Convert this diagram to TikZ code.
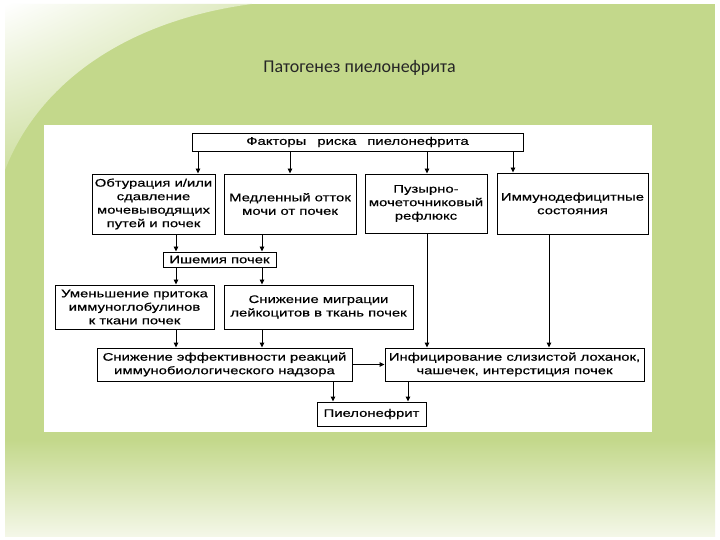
\documentclass[tikz,border=0pt]{standalone}
\usepackage{fontspec}
\setmainfont{Liberation Sans}
\newfontfamily\chartfont[FakeStretch=1.35,FakeBold=0.5]{Liberation Sans}
\newfontfamily\titlefont{Carlito}
\usepackage{tikz}
\usetikzlibrary{arrows.meta,shadings}
\definecolor{slidegreen}{HTML}{C3D88B}
\definecolor{slidepale}{HTML}{F4F7E8}
\definecolor{titlegray}{HTML}{262626}
\tikzset{
  box/.style={rectangle,draw=black,line width=0.9bp,fill=white,align=center,inner sep=1bp,
    font=\chartfont\fontsize{11bp}{13.5bp}\selectfont},
  arrow/.style={-{Triangle[length=5bp,width=4.5bp]},line width=0.9bp,draw=black}
}

\begin{document}
\begin{tikzpicture}[x=1bp,y=-1bp]
\useasboundingbox (0,0) rectangle (720,540);
% slide background
\fill[white] (0,0) rectangle (720,540);
\fill[slidegreen] (5,4) rectangle (715,440);
\shade[top color=slidegreen,bottom color=slidepale] (5,440) rectangle (715,536);
\shade[upper left=white,upper right=slidegreen!55!white,lower left=slidegreen!80!white,lower right=slidegreen] (5,4) -- (252,4) .. controls (130,20) and (40,80) .. (5,170) -- cycle;
\fill[white] (44,125) rectangle (652,432);

\node[font=\titlefont\fontsize{18bp}{20bp}\selectfont,text=titlegray] (title) at (359.5,68) {Патогенез пиелонефрита};

% first row
\node[box,minimum width=331bp,minimum height=18bp] (factors) at (357.5,142) {Факторы\hspace{1em}риска\hspace{1em}пиелонефрита};
\node[box,minimum width=123bp,minimum height=60bp] (obtur) at (153.5,204) {Обтурация и/или\\сдавление\\мочевыводящих\\путей и почек};
\node[box,minimum width=132bp,minimum height=60bp] (slow) at (290,204) {Медленный отток\\мочи от почек};
\node[box,minimum width=122bp,minimum height=59bp] (reflux) at (426,203.5) {Пузырно-\\мочеточниковый\\рефлюкс};
\node[box,minimum width=151bp,minimum height=61bp] (immuno) at (572.5,203.5) {Иммунодефицитные\\состояния};

% left branch
\node[box,minimum width=113bp,minimum height=15bp] (ischemia) at (219.5,259.5) {Ишемия почек};
\node[box,minimum width=159bp,minimum height=44bp] (reduce) at (134.5,307) {Уменьшение притока\\иммуноглобулинов\\к ткани почек};
\node[box,minimum width=189bp,minimum height=44bp] (migr) at (318.5,307) {Снижение миграции\\лейкоцитов в ткань почек};
\node[box,minimum width=255bp,minimum height=33bp] (effic) at (224.5,364.5) {Снижение эффективности реакций\\иммунобиологического надзора};
\node[box,minimum width=259bp,minimum height=33bp] (infect) at (514.5,364.5) {Инфицирование слизистой лоханок,\\чашечек, интерстиция почек};
\node[box,minimum width=109bp,minimum height=24bp] (pyelo) at (371.5,414) {Пиелонефрит};

% columns of the connectors
\coordinate (fA) at (198,0);
\coordinate (fB) at (290,0);
\coordinate (fD) at (513,0);
\coordinate (colA) at (176,0);
\coordinate (colB) at (262,0);
\coordinate (colC) at (427,0);
\coordinate (colD) at (549,0);
\coordinate (colE) at (333,0);
\coordinate (colF) at (408,0);

\draw[arrow] (factors.south -| fA) -- (obtur.north -| fA);
\draw[arrow] (factors.south -| fB) -- (slow.north -| fB);
\draw[arrow] (factors.south -| colC) -- (reflux.north -| colC);
\draw[arrow] (factors.south -| fD) -- (immuno.north -| fD);
\draw[arrow] (obtur.south -| colA) -- (ischemia.north -| colA);
\draw[arrow] (slow.south -| colB) -- (ischemia.north -| colB);
\draw[arrow] (ischemia.south -| colA) -- (reduce.north -| colA);
\draw[arrow] (ischemia.south -| colB) -- (migr.north -| colB);
\draw[arrow] (reduce.south -| colA) -- (effic.north -| colA);
\draw[arrow] (migr.south -| colB) -- (effic.north -| colB);
\draw[arrow] (reflux.south -| colC) -- (infect.north -| colC);
\draw[arrow] (immuno.south -| colD) -- (infect.north -| colD);
\draw[arrow] (effic.east) -- (infect.west);
\draw[arrow] (effic.south -| colE) -- (pyelo.north -| colE);
\draw[arrow] (infect.south -| colF) -- (pyelo.north -| colF);
\end{tikzpicture}
\end{document}
